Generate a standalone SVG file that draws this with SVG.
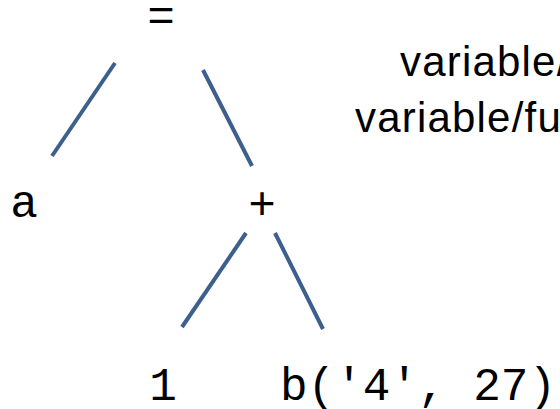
<svg xmlns="http://www.w3.org/2000/svg" width="560" height="409" viewBox="0 0 560 409">
<style>
.mono{font-family:"Liberation Mono","Courier New",monospace;font-size:46px;fill:#000}
.lbl{font-family:"Liberation Sans",Arial,sans-serif;font-size:42px;letter-spacing:1.2px;fill:#000}
.edge{stroke:#3c5f8e;stroke-width:4;fill:none}
</style>
<rect width="560" height="409" fill="#fff"/>
<g id="connectors">
<line class="edge" x1="115" y1="63" x2="52" y2="156"/>
<line class="edge" x1="203" y1="70" x2="252" y2="166"/>
<line class="edge" x1="246" y1="233" x2="182" y2="327"/>
<line class="edge" x1="275" y1="233" x2="323" y2="329"/>
</g>
<g id="node-eq"><text class="mono" x="161" y="31" text-anchor="middle">=</text></g>
<g id="node-a"><text class="mono" x="24" y="217" text-anchor="middle">a</text></g>
<g id="node-plus"><text class="mono" x="262" y="219" text-anchor="middle">+</text></g>
<g id="node-1"><text class="mono" x="163" y="400" text-anchor="middle">1</text></g>
<g id="node-b"><text class="mono" x="280" y="400">b('4', 27)</text></g>
<g id="label">
<text class="lbl" x="400" y="76">variable/</text>
<text class="lbl" x="355" y="132">variable/fu</text>
</g>
</svg>
